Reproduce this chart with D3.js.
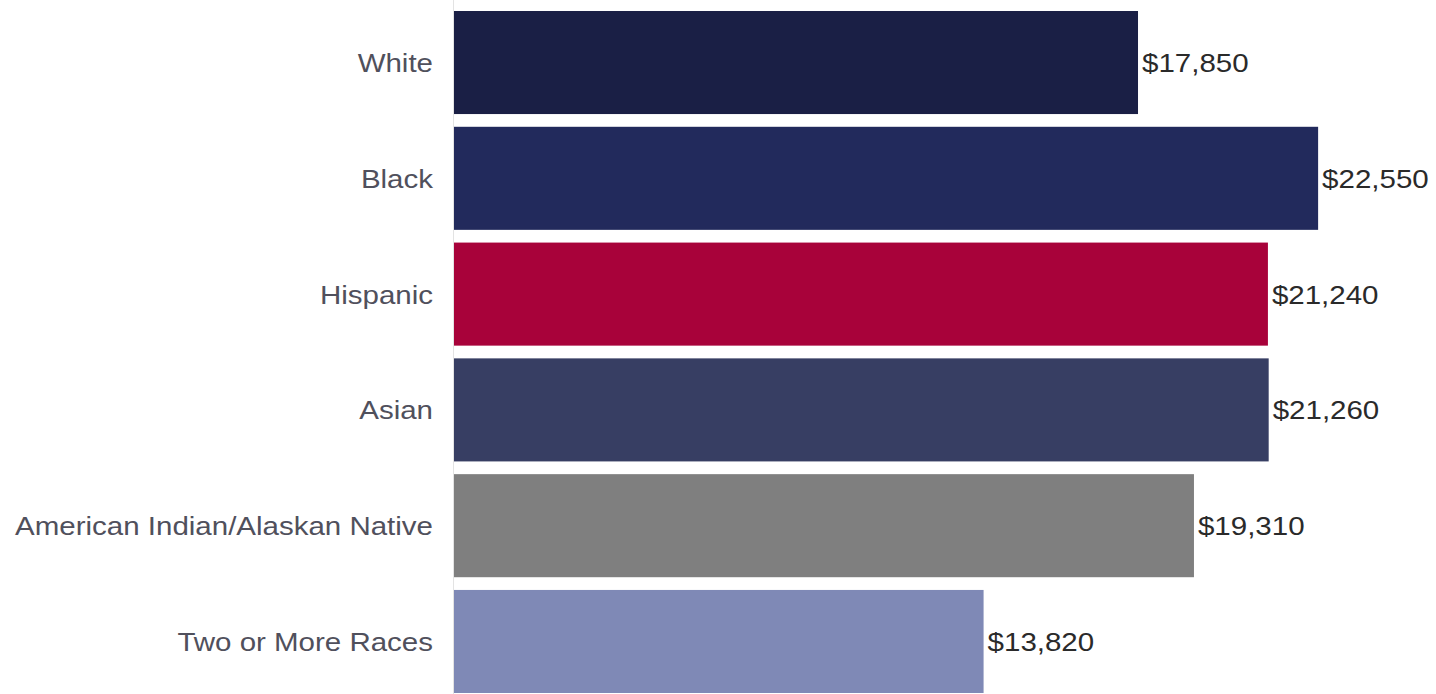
<!DOCTYPE html>
<html><head><meta charset="utf-8">
<script src="https://cdn.jsdelivr.net/npm/d3@7"></script>
<style>body{margin:0;background:#fff;} svg{display:block;}</style>
</head><body>
<svg id="chart" width="1436" height="694"></svg>
<script>
const categories = ["White","Black","Hispanic","Asian","American Indian/Alaskan Native","Two or More Races"];
const values = [17850,22550,21240,21260,19310,13820];
const barColors = ["#1a1f45","#222a5c","#a8023a","#373e63","#7f7f7f","#7f89b6"];

const stretch = 1.18;
const font = "'Liberation Sans', Arial, sans-serif";
const svg = d3.select("#chart");
const x = d3.scaleLinear().domain([0,25000]).range([454, 454 + 25000*0.03832]);
const y = d3.scaleBand().domain(categories).range([11, 693]).paddingInner(0.11).paddingOuter(0);

svg.append("line").attr("x1",453.5).attr("x2",453.5).attr("y1",0).attr("y2",694)
  .attr("stroke","#e3e3e3").attr("stroke-width",1);

svg.selectAll("rect.bar").data(categories).join("rect").attr("class","bar")
  .attr("x",x(0)).attr("y",d=>y(d)).attr("width",(d,i)=>x(values[i])-x(0))
  .attr("height",y.bandwidth()).attr("fill",(d,i)=>barColors[i]);

const yAxis = d3.axisLeft(y).tickSize(0).tickPadding(20);
const g = svg.append("g").attr("transform","translate(453,0)").call(yAxis);
g.select(".domain").remove();
g.selectAll("text").attr("font-family",font)
  .attr("font-size",25).attr("fill","#50505c").attr("dy","0.38em")
  .attr("x",0).attr("transform",`translate(-20,0) scale(${stretch},1)`);

svg.selectAll("text.val").data(categories).join("text").attr("class","val")
  .attr("transform",(d,i)=>`translate(${x(values[i])+4},${y(d)+y.bandwidth()/2}) scale(${stretch},1)`)
  .attr("dy","0.38em")
  .attr("font-family",font).attr("font-size",25).attr("fill","#2a2a2a")
  .text((d,i)=>"$"+d3.format(",")(values[i]));
</script>
</body></html>
